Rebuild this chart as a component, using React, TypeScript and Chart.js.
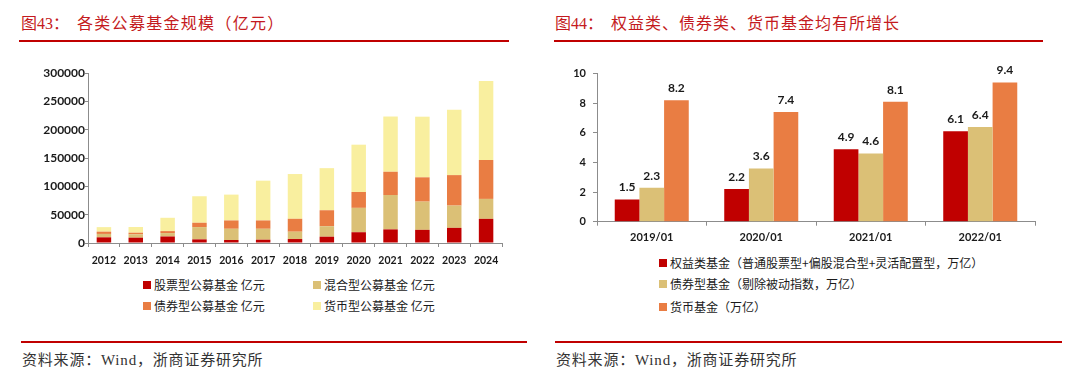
import React, { useEffect, useRef } from 'react';
import { Chart, registerables } from 'chart.js';

Chart.register(...registerables);

// ---------- Left chart data (亿元) ----------
const years = ['2012', '2013', '2014', '2015', '2016', '2017', '2018', '2019', '2020', '2021', '2022', '2023', '2024'];
const stockFund = [10000, 9400, 11500, 6400, 5300, 5800, 7000, 11100, 19000, 24000, 23200, 26700, 42600];
const mixedFund = [6000, 5800, 6000, 21700, 19800, 19300, 12900, 18500, 43000, 60700, 49800, 39300, 35200];
const bondFund = [4000, 3000, 3500, 7600, 14700, 14700, 22800, 28200, 28000, 41000, 42900, 53800, 68700];
const moneyFund = [8000, 10000, 23500, 46800, 45600, 70200, 79000, 74300, 83500, 97500, 107000, 115300, 139500];
const leftSeriesNames = ['股票型公募基金 亿元', '混合型公募基金 亿元', '债券型公募基金 亿元', '货币型公募基金 亿元'];
const leftYMax = 300000;
const leftYStep = 50000;

// ---------- Right chart data (万亿) ----------
const periods = ['2019/01', '2020/01', '2021/01', '2022/01'];
const equityScale = [1.5, 2.2, 4.9, 6.1];
const bondScale = [2.3, 3.6, 4.6, 6.4];
const moneyScale = [8.2, 7.4, 8.1, 9.4];
const rightSeriesNames = [
  '权益类基金（普通股票型+偏股混合型+灵活配置型，万亿）',
  '债券型基金（剔除被动指数，万亿）',
  '货币基金（万亿）',
];
const rightYMax = 10;
const rightYStep = 2;

// ---------- Texts ----------
const leftTitleNo = '图43：';
const leftTitle = '各类公募基金规模（亿元）';
const rightTitleNo = '图44：';
const rightTitle = '权益类、债券类、货币基金均有所增长';
const sourceText = '资料来源：Wind，浙商证券研究所';

// ---------- Styles ----------
const RED = '#c00000';
const TAN = '#dbc076';
const ORANGE = '#e97d43';
const YELLOW = '#f9ef9f';
const AXIS = '#8c8c8c';
const TEXT = '#1a1a1a';
const CJK = '"Liberation Serif", "Noto Sans CJK SC", serif';
const SANS = '"Noto Sans CJK SC", sans-serif';

const valueLabelPlugin = {
  id: 'valueLabels',
  afterDatasetsDraw(chart: any) {
    const ctx = chart.ctx;
    ctx.save();
    ctx.font = 'bold 12px Lato';
    ctx.fillStyle = TEXT;
    ctx.textAlign = 'center';
    ctx.textBaseline = 'middle';
    chart.data.datasets.forEach((ds: any, i: number) => {
      const meta = chart.getDatasetMeta(i);
      meta.data.forEach((bar: any, j: number) => {
        ctx.fillText(Number(ds.data[j]).toFixed(1), bar.x, bar.y - 12);
      });
    });
    ctx.restore();
  },
};

function axisCommon(tickLength: number) {
  return {
    grid: { display: true, drawOnChartArea: false, drawTicks: true, tickLength, color: AXIS, lineWidth: 1 },
    border: { display: true, color: AXIS, width: 1 },
  };
}

function LeftChart() {
  const ref = useRef<HTMLCanvasElement>(null);
  useEffect(() => {
    const chart = new Chart(ref.current as HTMLCanvasElement, {
      type: 'bar',
      data: {
        labels: years,
        datasets: [
          { label: leftSeriesNames[0], data: stockFund, backgroundColor: RED },
          { label: leftSeriesNames[1], data: mixedFund, backgroundColor: TAN },
          { label: leftSeriesNames[2], data: bondFund, backgroundColor: ORANGE },
          { label: leftSeriesNames[3], data: moneyFund, backgroundColor: YELLOW },
        ],
      },
      options: {
        animation: false,
        responsive: false,
        maintainAspectRatio: false,
        layout: { padding: { left: 0, right: 18, top: 13, bottom: 0 } },
        plugins: { legend: { display: false }, tooltip: { enabled: false } },
        datasets: { bar: { barPercentage: 0.455, categoryPercentage: 1 } },
        scales: {
          x: {
            stacked: true,
            ...axisCommon(4),
            grid: { ...axisCommon(4).grid, offset: true },
            ticks: { font: { family: 'Lato', weight: 'bold', size: 10.5 }, color: TEXT, padding: 7, maxRotation: 0, autoSkip: false },
            afterFit: (s: any) => { s.height = 27; },
          },
          y: {
            stacked: true,
            min: 0,
            max: leftYMax,
            ...axisCommon(3),
            ticks: {
              stepSize: leftYStep,
              font: { family: 'Lato', weight: 'bold', size: 12 },
              color: TEXT,
              padding: 0,
              callback: (v: any) => String(v),
            },
            afterFit: (s: any) => { s.width = 88; },
          },
        },
      } as any,
    });
    return () => chart.destroy();
  }, []);
  return <canvas ref={ref} width={520} height={210} style={{ position: 'absolute', left: 0, top: 60, width: 520, height: 210 }} />;
}

function RightChart() {
  const ref = useRef<HTMLCanvasElement>(null);
  useEffect(() => {
    const chart = new Chart(ref.current as HTMLCanvasElement, {
      type: 'bar',
      data: {
        labels: periods,
        datasets: [
          { label: rightSeriesNames[0], data: equityScale, backgroundColor: RED },
          { label: rightSeriesNames[1], data: bondScale, backgroundColor: TAN },
          { label: rightSeriesNames[2], data: moneyScale, backgroundColor: ORANGE },
        ],
      },
      options: {
        animation: false,
        responsive: false,
        maintainAspectRatio: false,
        layout: { padding: { left: 0, right: 25, top: 11.7, bottom: 0 } },
        plugins: { legend: { display: false }, tooltip: { enabled: false } },
        datasets: { bar: { barPercentage: 1, categoryPercentage: 0.676 } },
        scales: {
          x: {
            ...axisCommon(4),
            grid: { ...axisCommon(4).grid, offset: true },
            ticks: { font: { family: 'Lato', weight: 'bold', size: 11 }, color: TEXT, padding: 5.5, maxRotation: 0, autoSkip: false },
            afterFit: (s: any) => { s.height = 28.3; },
          },
          y: {
            min: 0,
            max: rightYMax,
            ...axisCommon(4),
            ticks: { stepSize: rightYStep, font: { family: 'Lato', weight: 'bold', size: 11 }, color: TEXT, padding: 7 },
            afterFit: (s: any) => { s.width = 57; },
          },
        },
      } as any,
      plugins: [valueLabelPlugin],
    });
    return () => chart.destroy();
  }, []);
  return <canvas ref={ref} width={520} height={190} style={{ position: 'absolute', left: 540, top: 60, width: 520, height: 190 }} />;
}

const abs = (o: React.CSSProperties): React.CSSProperties => ({ position: 'absolute', ...o });

function Title({ x, no, text, spacing }: { x: number; no: string; text: string; spacing: number }) {
  return (
    <div style={abs({ left: x, top: 15, height: 18, lineHeight: '18px', fontSize: 16, fontFamily: CJK, color: '#c41a20', whiteSpace: 'nowrap' })}>
      <span>{no}</span>
      <span style={{ marginLeft: 8, letterSpacing: spacing }}>{text}</span>
    </div>
  );
}

function Rule({ x1, x2, y }: { x1: number; x2: number; y: number }) {
  return <div style={abs({ left: x1, top: y, width: x2 - x1, height: 2, background: RED })} />;
}

function LegendItem({ x, y, color, text }: { x: number; y: number; color: string; text: string }) {
  return (
    <>
      <div style={abs({ left: x, top: y - 4, width: 8, height: 8, background: color })} />
      <div style={abs({ left: x + 11, top: y - 8, height: 16, lineHeight: '16px', fontSize: 12, fontFamily: SANS, color: TEXT, whiteSpace: 'nowrap' })}>{text}</div>
    </>
  );
}

export default function App() {
  const leftColors = [RED, TAN, ORANGE, YELLOW];
  const rightColors = [RED, TAN, ORANGE];
  const leftPos = [
    [143, 285],
    [313, 285],
    [143, 306],
    [313, 306],
  ];
  const rightRows = [262.7, 284.3, 306.7];
  const sourceStyle = (x: number) =>
    abs({ left: x, top: 351, height: 18, lineHeight: '18px', fontSize: 15, fontFamily: CJK, color: '#333', whiteSpace: 'nowrap', letterSpacing: 0.8 });
  return (
    <div style={{ position: 'fixed', left: 0, top: 0, width: 1080, height: 382, background: '#fff', overflow: 'hidden' }}>
      <Title x={21} no={leftTitleNo} text={leftTitle} spacing={1.3} />
      <Title x={555} no={rightTitleNo} text={rightTitle} spacing={1} />
      <Rule x1={19} x2={509} y={40} />
      <Rule x1={554} x2={1043} y={40} />
      <LeftChart />
      <RightChart />
      {leftSeriesNames.map((n, i) => (
        <LegendItem key={n} x={leftPos[i][0]} y={leftPos[i][1]} color={leftColors[i]} text={n} />
      ))}
      {rightSeriesNames.map((n, i) => (
        <LegendItem key={n} x={659} y={rightRows[i]} color={rightColors[i]} text={n} />
      ))}
      <Rule x1={21} x2={527} y={341} />
      <Rule x1={555} x2={1062} y={341} />
      <div style={sourceStyle(22)}>{sourceText}</div>
      <div style={sourceStyle(556)}>{sourceText}</div>
    </div>
  );
}
